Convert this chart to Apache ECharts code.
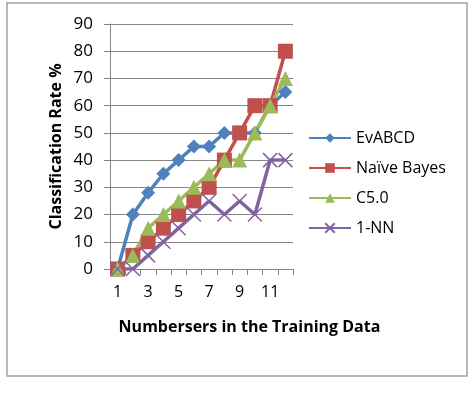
<!DOCTYPE html>
<html>
<head>
<meta charset="utf-8">
<script src="https://cdn.jsdelivr.net/npm/echarts@6/dist/echarts.min.js"></script>
<style>
  html, body { margin: 0; padding: 0; background: #fff; }
  #chart { width: 473px; height: 394px; }
</style>
</head>
<body>
<div id="chart"></div>
<script>
const categories = ['1', '2', '3', '4', '5', '6', '7', '8', '9', '10', '11', '12']
const evabcd = [0, 20, 28, 35, 40, 45, 45, 50, 50, 50, 60, 65]
const naiveBayes = [0, 5, 10, 15, 20, 25, 30, 40, 50, 60, 60, 80]
const c50 = [0, 5, 15, 20, 25, 30, 35, 40, 40, 50, 60, 70]
const oneNN = [0, 0, 5, 10, 15, 20, 25, 20, 25, 20, 40, 40]

const font = 'Open Sans'
const chart = echarts.init(document.getElementById('chart'))

const lineSeries = (name, data, color, symbol, size, extra) => ({
  name,
  type: 'line',
  data,
  symbol,
  symbolSize: size,
  showAllSymbol: true,
  lineStyle: { color, width: 3.5 },
  itemStyle: { color },
  emphasis: { disabled: true },
  ...extra,
})

chart.setOption({
  animation: false,
  textStyle: { fontFamily: font },
  graphic: [
    {
      type: 'rect',
      shape: { x: 7, y: 3, width: 460, height: 373 },
      style: { fill: 'none', stroke: '#a0a0a0', lineWidth: 1.5 },
      silent: true,
    },
  ],
  grid: { left: 110, right: 180, top: 24, bottom: 125 },
  legend: {
    orient: 'vertical',
    left: 303,
    top: 125,
    itemGap: 14,
    itemWidth: 42,
    itemHeight: 12,
    textStyle: { fontFamily: font, fontSize: 16, color: '#000' },
    data: ['EvABCD', 'Naïve Bayes', 'C5.0', '1-NN'],
  },
  xAxis: {
    type: 'category',
    data: categories,
    boundaryGap: true,
    name: 'Numbersers in the Training Data',
    nameLocation: 'middle',
    nameGap: 50,
    nameTextStyle: {
      fontFamily: font, fontSize: 16, fontWeight: 'bold', color: '#000',
      padding: [0, 0, 0, 96],
    },
    axisLine: { lineStyle: { color: '#868686', width: 1 } },
    axisTick: { show: true, interval: 0, length: 6, lineStyle: { color: '#868686' } },
    axisLabel: { interval: 1, margin: 15, fontSize: 16, color: '#000', fontFamily: font },
  },
  yAxis: {
    type: 'value',
    min: 0,
    max: 90,
    interval: 10,
    name: 'Classification Rate %',
    nameLocation: 'middle',
    nameGap: 46,
    nameTextStyle: { fontFamily: font, fontSize: 16, fontWeight: 'bold', color: '#000' },
    axisLine: { show: true, lineStyle: { color: '#868686', width: 1 } },
    axisTick: { show: true, length: 6, lineStyle: { color: '#868686' } },
    axisLabel: { margin: 17, fontSize: 17, color: '#000', fontFamily: font },
    splitLine: { lineStyle: { color: '#868686', width: 1 } },
  },
  series: [
    lineSeries('EvABCD', evabcd, '#4F81BD', 'diamond', 14),
    lineSeries('Naïve Bayes', naiveBayes, '#C0504D', 'rect', 15),
    lineSeries('C5.0', c50, '#9BBB59', 'triangle', 15),
    lineSeries('1-NN', oneNN, '#8064A2', 'path://M0,0L10,10M10,0L0,10', 14, {
      itemStyle: { color: 'none', borderColor: '#8064A2', borderWidth: 1.5 },
    }),
  ],
})
</script>
</body>
</html>
